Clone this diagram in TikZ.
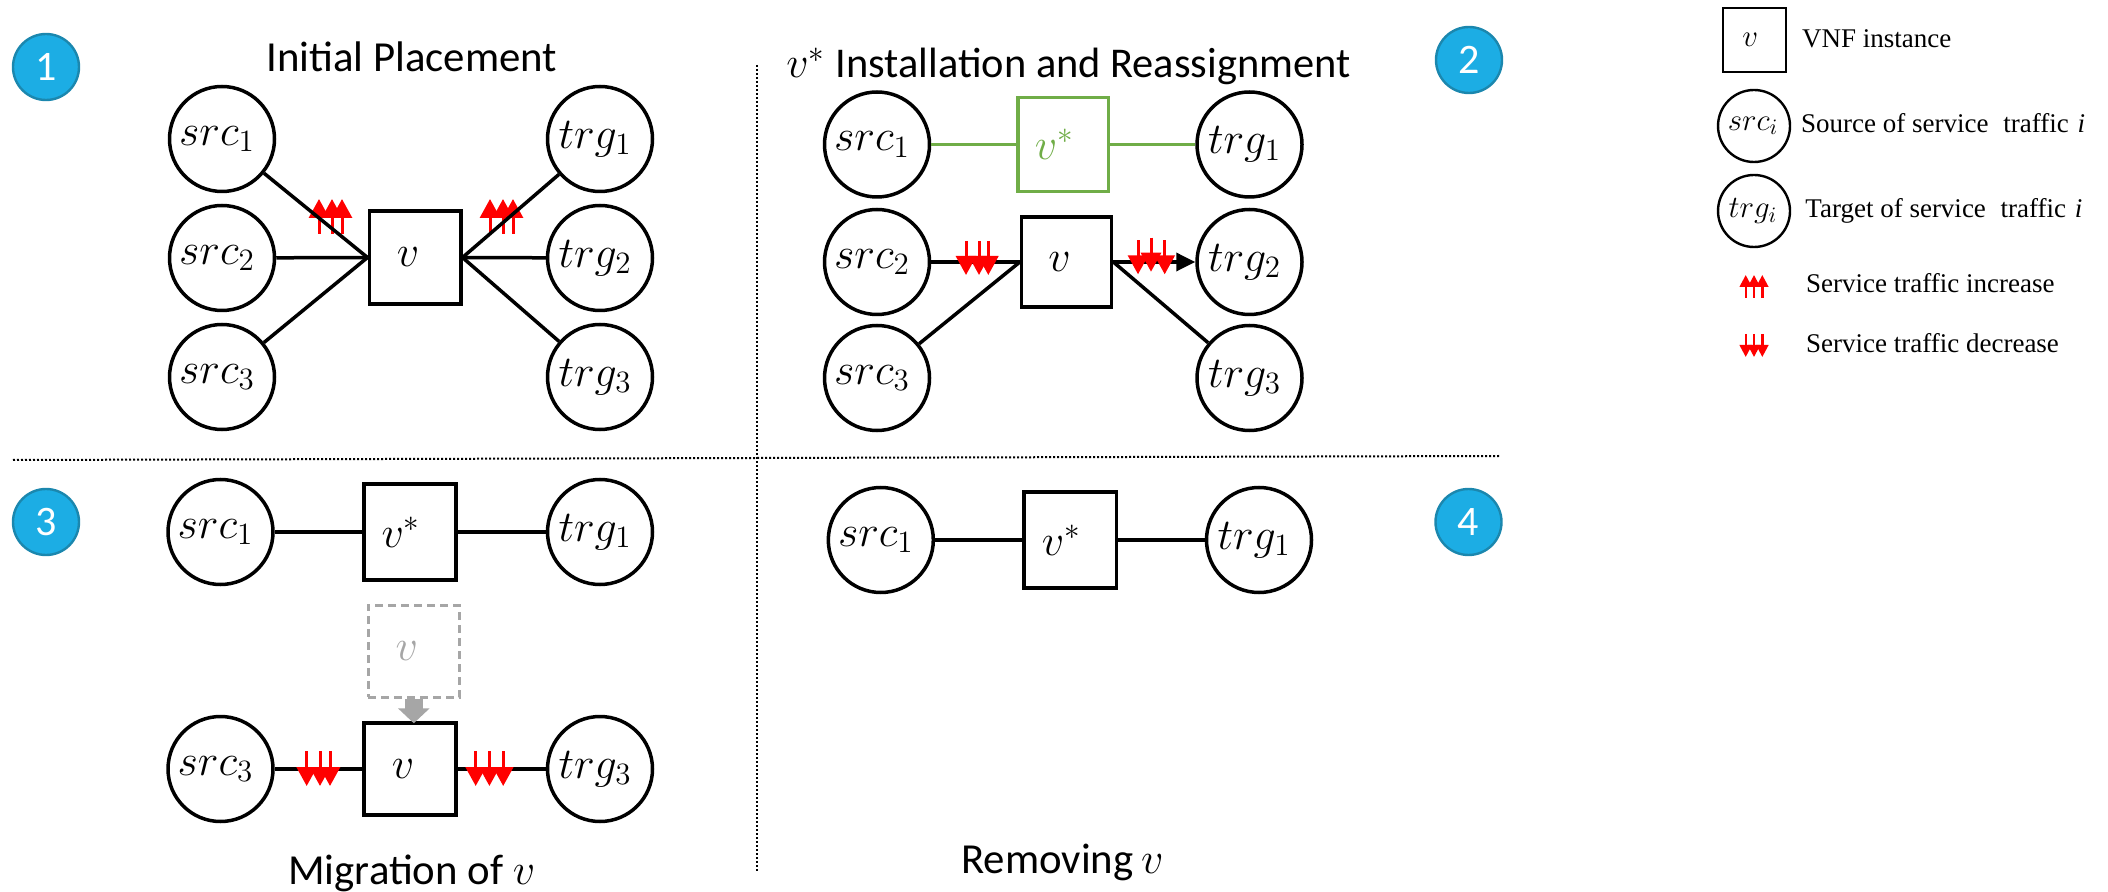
\RequirePackage{fix-cm}
\documentclass[tikz,border=0pt]{standalone}
\usepackage{fontspec}
\setmainfont{Carlito}
\newfontfamily\legfont{Liberation Serif}
\usetikzlibrary{arrows.meta}
\DeclareMathSizes{22}{22}{15.5}{11}
\DeclareMathSizes{15.5}{15.5}{11}{9}
\definecolor{vgreen}{HTML}{70AD47}
\definecolor{vgray}{HTML}{A6A6A6}
\definecolor{badgeblue}{HTML}{1CADE4}
\definecolor{badgeedge}{HTML}{1B87AE}
\tikzset{
  bigc/.style={circle,draw,line width=1.75pt,minimum size=105pt*0.5,inner sep=0pt,font=\fontsize{22}{26}\selectfont},
  vbox/.style={rectangle,draw,line width=1.75pt,inner sep=0pt,font=\fontsize{22}{26}\selectfont},
  link/.style={line width=1.75pt},
  greenlink/.style={line width=1.75pt,draw=vgreen},
  badge/.style={circle,draw=badgeedge,line width=1.2pt,fill=badgeblue,text=white,minimum size=33pt,inner sep=0pt,font=\fontsize{21}{25}\selectfont},
  ttl/.style={anchor=base west,inner sep=0pt,font=\fontsize{21.4}{25}\selectfont},
  legc/.style={circle,draw,line width=1.2pt,minimum size=36pt,inner sep=0pt,font=\fontsize{15.5}{18}\selectfont},
  legt/.style={anchor=base west,inner sep=0pt,font=\legfont\fontsize{13.5}{16}\selectfont},
  redup/.style={draw=red,line width=1.5pt,-{Triangle[width=10pt,length=9.5pt,fill=red]}},
  redsm/.style={draw=red,line width=1.2pt,-{Triangle[width=6pt,length=6pt,fill=red]}},
  sep/.style={line width=1pt,dash pattern=on 1pt off 1pt},
}
\newcommand\lbl[1]{$#1$\kern5pt}
\newcommand\vlb{$v$\kern7pt}
\newcommand\vst{$v^{*}$\kern9pt}
\newcommand\bigarrows[3]{\foreach \ax/\ay in {#1}{\draw[redup] (\ax,\ay+#2) -- (\ax,\ay+#3);}}
\begin{document}
\begin{tikzpicture}[x=0.5pt,y=-0.5pt]
\useasboundingbox (0,0) rectangle (2108,892);
% separators
\coordinate (hl) at (13,460); \coordinate (hr) at (1499,456);
\coordinate (vt) at (757,65); \coordinate (vb) at (757,871);
\draw[sep] (hl) -- (hr);
\draw[sep] (vt) -- (vb);
% badges
\node[badge] (b1) at (46,67) {1};
\node[badge] (b2) at (1469,60) {2};
\node[badge] (b3) at (46,522) {3};
\node[badge] (b4) at (1468.5,522) {4};
% titles
\node[ttl] (t1) at (266,72) {Initial Placement};
\node[ttl] (t2) at (786,78) {\fontsize{22}{26}\selectfont $v^{*}$\kern0.5pt\fontsize{21.2}{25}\selectfont{} Installation and Reassignment};
\node[ttl] (t3) at (288,884) {Migration of \fontsize{22}{26}\selectfont$v$};
\node[ttl] (t4) at (961,873) {Removing\kern-1pt{} \fontsize{22}{26}\selectfont$v$};
% panel 1
\bigarrows{319/199,332/199,342/199,490/199,503/199,513/199}{35}{0}
\node[bigc] (as1) at (222,139) {\lbl{src_1}};
\node[bigc] (as2) at (222,258) {\lbl{src_2}};
\node[bigc] (as3) at (222,377) {\lbl{src_3}};
\node[bigc] (at1) at (600,139) {\lbl{trg_1}};
\node[bigc] (at2) at (600,258) {\lbl{trg_2}};
\node[bigc] (at3) at (600,377) {\lbl{trg_3}};
\node[vbox,minimum width=45.75pt,minimum height=46.5pt] (av) at (415,257.5) {\vlb};
\foreach \n in {as1,as2,as3}{\draw[link] (\n) -- (av.west);}
\foreach \n in {at1,at2,at3}{\draw[link] (\n) -- (av.east);}
% panel 2
\node[bigc] (bs1) at (877,144.5) {\lbl{src_1}};
\node[bigc] (bs2) at (877,262) {\lbl{src_2}};
\node[bigc] (bs3) at (877,378) {\lbl{src_3}};
\node[bigc] (bt1) at (1249.5,144.5) {\lbl{trg_1}};
\node[bigc] (bt2) at (1249.5,262) {\lbl{trg_2}};
\node[bigc] (bt3) at (1249.5,378) {\lbl{trg_3}};
\node[vbox,draw=vgreen,text=vgreen,minimum width=45.35pt,minimum height=47pt] (bvs) at (1063.3,144.5) {\vst};
\node[vbox,minimum width=45pt,minimum height=45pt] (bv) at (1066.6,262) {\vlb};
\draw[greenlink] (bs1.east) -- (bvs.west);
\draw[greenlink] (bvs.east) -- (bt1.west);
\draw[link] (bs2) -- (bv.west);
\draw[link] (bs3) -- (bv.west);
\draw[link,-{Triangle[width=9pt,length=9.5pt]}] (bv.east) -- (bt2.west);
\draw[link] (bt3) -- (bv.east);
\foreach \ax/\ay in {966/275,979/275,988.3/275,1138/274.3,1151/271.7,1164.7/274.3}{\draw[redup] (\ax,\ay-34) -- (\ax,\ay);}
% panel 3
\node[bigc] (cs1) at (220.5,532) {\lbl{src_1}};
\node[bigc] (ct1) at (600,532) {\lbl{trg_1}};
\node[bigc] (cs3) at (220.5,769) {\lbl{src_3}};
\node[bigc] (ct3) at (600,769) {\lbl{trg_3}};
\node[vbox,minimum width=46pt,minimum height=47.75pt] (cvs) at (410,532) {\vst};
\node[vbox,minimum width=46pt,minimum height=46pt] (cv) at (410,769) {\vlb};
\node[vbox,draw=vgray,text=vgray,dashed,line width=1.5pt,minimum width=45.8pt,minimum height=46pt,dash pattern=on 4pt off 2.5pt] (cg) at (413.8,651) {\vlb};
\draw[link] (cs1) -- (cvs);
\draw[link] (cvs) -- (ct1);
\draw[link] (cs3) -- (cv);
\draw[link] (cv) -- (ct3);
\coordinate (cgt) at (cg.south);
\coordinate (cvt) at ([yshift=-1pt]cv.north -| cg.south);
\draw[vgray,line width=8.7pt,-{Triangle[width=15.5pt,length=7.5pt,fill=vgray]}] (cgt) -- (cvt);
\foreach \ax in {306.7,320,330,475.7,489.4,503.2}{\draw[redup] (\ax,751) -- (\ax,786);}
% panel 4
\node[bigc] (ds1) at (880.8,540) {\lbl{src_1}};
\node[bigc] (dt1) at (1259,540) {\lbl{trg_1}};
\node[vbox,minimum width=46.2pt,minimum height=48pt] (dvs) at (1070.2,540) {\vst};
\draw[link] (ds1) -- (dvs);
\draw[link] (dvs) -- (dt1);
% legend
\node[vbox,line width=1.2pt,minimum width=31.5pt,minimum height=32pt,font=\fontsize{15.5}{18}\selectfont] (lv) at (1754.3,40.3) {$v$\kern4pt};
\node[legc] (ls) at (1754,126) {$src_i$\kern1pt};
\node[legc] (lt) at (1754,211) {$trg_i$\kern1pt};
\node[legt] (l1) at (1801.7,48) {VNF instance};
\node[legt] (l2) at (1800.7,133) {Source of service\kern4pt\ traffic \kern1pt{\itshape i}};
\node[legt] (l3) at (1805,218) {Target of service\kern4pt\ traffic \kern1pt{\itshape i}};
\node[legt] (l4) at (1805.7,293) {Service traffic increase};
\node[legt] (l5) at (1805.7,352.7) {Service traffic decrease};
\foreach \ax in {1745.7,1754,1762.3}{
  \draw[redsm] (\ax,298) -- (\ax,275);
  \draw[redsm] (\ax,334) -- (\ax,357);
}
\end{tikzpicture}
\end{document}
